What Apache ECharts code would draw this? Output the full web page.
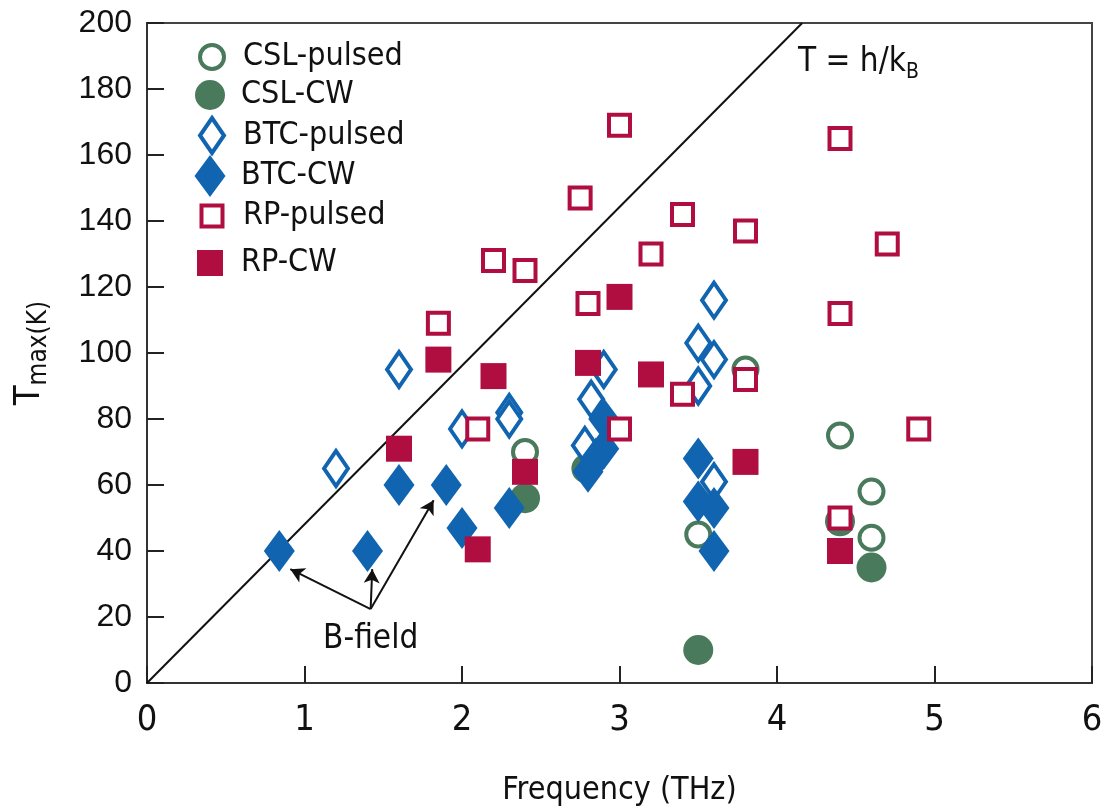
<!DOCTYPE html>
<html>
<head>
<meta charset="utf-8">
<script src="https://cdn.jsdelivr.net/npm/echarts@6/dist/echarts.min.js"></script>
<style>
html,body{margin:0;padding:0;background:#fff;}
#c{width:1117px;height:812px;}
</style>
</head>
<body>
<div id="c"></div>
<script>
// ---- data (frequency THz, Tmax K) ----
const seriesNames = ['CSL-pulsed', 'CSL-CW', 'BTC-pulsed', 'BTC-CW', 'RP-pulsed', 'RP-CW'];
const cslPulsed = [[2.4,70],[3.8,95],[3.5,45],[4.4,75],[4.6,58],[4.6,44]];
const cslCW = [[2.4,56],[2.79,65],[3.5,10],[4.4,49],[4.6,35]];
const btcPulsed = [[1.2,65],[1.6,95],[2.0,77],[2.3,82],[2.3,80],[2.78,72],[2.82,86],[2.9,95],[3.5,90],[3.5,103],[3.6,98],[3.6,116],[3.6,61]];
const btcCW = [[0.84,40],[1.4,40],[1.6,60],[1.9,60],[2.0,47],[2.3,53],[2.8,64],[2.85,68],[2.9,71],[2.9,80],[3.5,68],[3.5,55],[3.6,53],[3.6,40]];
const rpPulsed = [[1.85,109],[2.2,128],[2.4,125],[2.1,77],[2.75,147],[2.8,115],[3.0,169],[3.2,130],[3.4,142],[3.8,137],[4.4,165],[4.7,133],[4.4,112],[3.4,87.5],[3.8,92],[3.0,77],[4.9,77],[4.4,50]];
const rpCW = [[1.85,98],[1.6,71],[2.2,93],[2.1,40.5],[2.4,64],[2.8,97],[3.0,117],[3.2,93.5],[3.8,67],[4.4,40]];
const limitLine = [[0,0],[4.16,200]];
const limitLabel = 'T = h/k';
const bFieldOrigin = [1.42, 22.4];
const bFieldTargets = [[0.91,34.5],[1.43,34.5],[1.82,55.4]];
const bFieldText = [1.42, 13.3];
const xTicks = ['0','1','2','3','4','5','6'];
const yTicks = ['0','20','40','60','80','100','120','140','160','180','200'];

const GREEN = '#497a5c', BLUE = '#1064b0', RED = '#b00e40';
const NARROW = '"Liberation Sans Narrow", "DejaVu Sans Condensed", "Liberation Sans", sans-serif';
const REG = '"Liberation Sans", Arial, sans-serif';

const styles = [
  {symbol:'circle', size:24, open:true, color:GREEN},
  {symbol:'circle', size:30, open:false, color:GREEN},
  {symbol:'diamond', size:[24,35], open:true, color:BLUE},
  {symbol:'diamond', size:[31,42], open:false, color:BLUE},
  {symbol:'rect', size:21, open:true, color:RED},
  {symbol:'rect', size:26, open:false, color:RED}
];
const datasets = [cslPulsed, cslCW, btcPulsed, btcCW, rpPulsed, rpCW];
const legendCentersY = [52, 90, 129, 171, 211, 258];
const legendCenterX = 205;
const legendTextX = 243;
const LEG_LH = 36;

const series = seriesNames.map((n,i)=>{
  const s = styles[i];
  return {
    name:n, type:'scatter', data:datasets[i], symbol:s.symbol, symbolSize:s.size,
    z: 3+i,
    itemStyle: s.open ? {color:'#fff', borderColor:s.color, borderWidth:4, opacity:1}
                      : {color:s.color, borderWidth:0, opacity:1},
    emphasis:{disabled:true}
  };
});

series.unshift({
  type:'line', data:limitLine, symbol:'none', lineStyle:{color:'#111', width:2}, z:2, silent:true,
  markLine:{
    silent:true, symbol:['none','arrow'], symbolSize:[12,14],
    lineStyle:{color:'#111', width:2, type:'solid'}, label:{show:false},
    data: bFieldTargets.map(t=>[{coord:bFieldOrigin},{coord:t}])
  },
  markPoint:{
    silent:true, symbol:'circle', symbolSize:1, itemStyle:{color:'rgba(0,0,0,0)'},
    label:{show:true, position:'inside', formatter:'B-field', color:'#111', fontFamily:NARROW, fontSize:33},
    data:[{coord:bFieldText}]
  }
});

const legends = seriesNames.map((n,i)=>{
  const s = styles[i];
  const iw = Array.isArray(s.size)? s.size[0] : s.size;
  const ih = Array.isArray(s.size)? s.size[1] : s.size;
  const left = legendCenterX - iw/2;
  return {
    data:[{name:n, icon:s.symbol}], left:left, top:legendCentersY[i]-Math.max(ih,LEG_LH)/2,
    itemWidth:iw, itemHeight:ih, symbolKeepAspect:false, selectedMode:false,
    itemStyle: s.open ? {color:'#fff', borderColor:s.color, borderWidth:4} : {color:s.color, borderWidth:0},
    textStyle:{fontFamily:NARROW, fontSize:32, lineHeight:LEG_LH, color:'#111', padding:[0,0,0, legendTextX-12-left-iw]}
  };
});

const chart = echarts.init(document.getElementById('c'));
chart.setOption({
  animation:false,
  backgroundColor:'#fff',
  grid:{left:147, right:25, top:23, bottom:128, show:true, borderColor:'#444', borderWidth:2, backgroundColor:'transparent'},
  legend: legends,
  xAxis:{
    type:'value', min:0, max:6, interval:1,
    name:'Frequency (THz)', nameLocation:'middle', nameGap:92,
    nameTextStyle:{fontFamily:NARROW, fontSize:32, color:'#111'},
    axisLine:{show:true, lineStyle:{color:'#333', width:2}},
    axisTick:{show:true, inside:true, length:17, lineStyle:{color:'#222', width:2}},
    axisLabel:{fontFamily:NARROW, fontSize:36, color:'#111', margin:20, formatter:(v)=>xTicks[Math.round(v)]},
    splitLine:{show:false}
  },
  yAxis:{
    type:'value', min:0, max:200, interval:20,
    name:'{t|T}{s|max(K)}', nameLocation:'middle', nameGap:95, nameRotate:90,
    nameTextStyle:{
      rich:{
        t:{fontFamily:NARROW, fontSize:36, color:'#111', lineHeight:44, verticalAlign:'middle'},
        s:{fontFamily:NARROW, fontSize:26, color:'#111', lineHeight:26, verticalAlign:'bottom'}
      }
    },
    axisLine:{show:true, lineStyle:{color:'#333', width:2}},
    axisTick:{show:true, inside:true, length:17, lineStyle:{color:'#222', width:2}},
    axisLabel:{fontFamily:REG, fontSize:32, color:'#111', margin:15, formatter:(v)=>yTicks[Math.round(v/20)]},
    splitLine:{show:false}
  },
  graphic:[{
    type:'text', left:798, top:46, silent:true,
    style:{
      text:'{a|'+limitLabel+'}{b|B}',
      rich:{
        a:{fontFamily:NARROW, fontSize:33, fill:'#111', lineHeight:42, verticalAlign:'middle'},
        b:{fontFamily:NARROW, fontSize:21, fill:'#111', lineHeight:22, verticalAlign:'bottom'}
      }
    }
  }],
  series: series
});
</script>
</body>
</html>
